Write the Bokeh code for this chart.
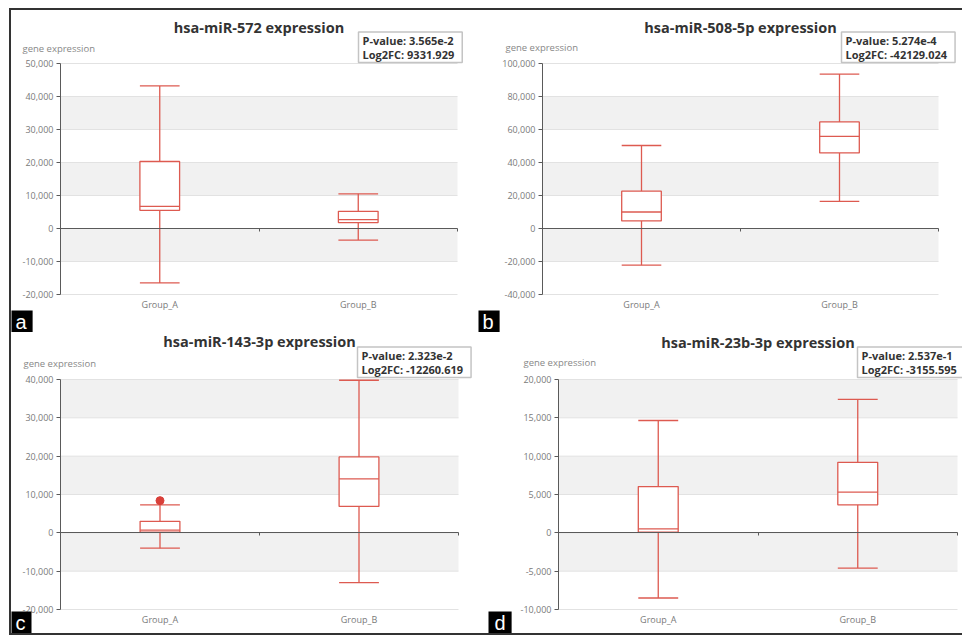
from bokeh.plotting import figure
from bokeh.models import Range1d, FixedTicker, NumeralTickFormatter, Label, BoxAnnotation, LinearAxis, Div
from bokeh.layouts import column, row
from bokeh.embed import file_html
from bokeh.resources import INLINE

groups = ["Group_A", "Group_B"]

a_title = "hsa-miR-572 expression"
a_pvalue = "P-value: 3.565e-2"
a_log2fc = "Log2FC: 9331.929"
a_yticks = [-20000, -10000, 0, 10000, 20000, 30000, 40000, 50000]
a_lower = [-16500, -3500]
a_q1 = [5500, 1800]
a_median = [6700, 2700]
a_q3 = [20300, 5200]
a_upper = [43200, 10500]
a_out_group = []
a_out_value = []

b_title = "hsa-miR-508-5p expression"
b_pvalue = "P-value: 5.274e-4"
b_log2fc = "Log2FC: -42129.024"
b_yticks = [-40000, -20000, 0, 20000, 40000, 60000, 80000, 100000]
b_lower = [-22200, 16400]
b_q1 = [4600, 45800]
b_median = [10000, 55800]
b_q3 = [22600, 64600]
b_upper = [50300, 93600]
b_out_group = []
b_out_value = []

c_title = "hsa-miR-143-3p expression"
c_pvalue = "P-value: 2.323e-2"
c_log2fc = "Log2FC: -12260.619"
c_yticks = [-20000, -10000, 0, 10000, 20000, 30000, 40000]
c_lower = [-4000, -13000]
c_q1 = [200, 6900]
c_median = [700, 14100]
c_q3 = [3000, 19800]
c_upper = [7300, 39800]
c_out_group = ["Group_A"]
c_out_value = [8400]

d_title = "hsa-miR-23b-3p expression"
d_pvalue = "P-value: 2.537e-1"
d_log2fc = "Log2FC: -3155.595"
d_yticks = [-10000, -5000, 0, 5000, 10000, 15000, 20000]
d_lower = [-8500, -4600]
d_q1 = [100, 3650]
d_median = [520, 5300]
d_q3 = [6040, 9200]
d_upper = [14650, 17400]
d_out_group = []
d_out_value = []

RED = "#dd5a50"
FONT = "Open Sans"
AXIS = "#5a5a5a"
PV_PAD = (4, 8, 1, 1)


def panel(title, pv, fc, yticks, lower, q1, med, q3, upper, out_g, out_v, letter,
          w, h, l, r, t, b, pv_left, pv_bottom, name_dx, name_dy, title_dy, letter_dx):
    n = len(groups)
    xs = [i + 0.5 for i in range(n)]
    hw = 0.1
    ymin, ymax = yticks[0], yticks[-1]
    pw, ph = w - l - r, h - t - b
    sx = n / pw
    sy = (ymax - ymin) / ph
    p = figure(width=w, height=h, x_range=Range1d(-l * sx, n + r * sx),
               y_range=Range1d(ymin - b * sy, ymax + t * sy),
               output_backend="svg", toolbar_location=None,
               x_axis_location=None, y_axis_location=None, min_border=0)
    p.outline_line_color = None
    p.background_fill_color = "white"
    p.border_fill_color = "white"
    p.xgrid.visible = False
    p.ygrid.visible = False

    for i in range(len(yticks) - 1):
        if i % 2 == 1:
            p.add_layout(BoxAnnotation(left=0, right=n, bottom=yticks[i], top=yticks[i + 1],
                                       fill_color="#f1f1f1", fill_alpha=1, line_color=None,
                                       level="underlay"))
    p.segment(x0=[0] * len(yticks), x1=[n] * len(yticks), y0=yticks, y1=yticks,
              line_color="#e2e2e2", line_width=1)

    yax = LinearAxis(fixed_location=0, bounds=(ymin, ymax), ticker=FixedTicker(ticks=yticks),
                     formatter=NumeralTickFormatter(format="0,0"))
    yax.axis_line_color = AXIS
    yax.major_tick_line_color = AXIS
    yax.major_tick_out = 4
    yax.major_tick_in = 0
    yax.minor_tick_line_color = None
    yax.major_label_standoff = 3
    yax.major_label_text_font = FONT
    yax.major_label_text_font_size = "9px"
    yax.major_label_text_color = "#7a7a7a"
    p.add_layout(yax, "left")

    zax = LinearAxis(fixed_location=0, bounds=(0, n), ticker=FixedTicker(ticks=list(range(n + 1))))
    zax.axis_line_color = AXIS
    zax.major_tick_line_color = AXIS
    zax.major_tick_out = 3
    zax.major_tick_in = 0
    zax.minor_tick_line_color = None
    zax.major_label_text_color = None
    p.add_layout(zax, "below")

    gax = LinearAxis(fixed_location=ymin, ticker=FixedTicker(ticks=xs),
                     major_label_overrides={x: g for x, g in zip(xs, groups)})
    gax.axis_line_color = None
    gax.major_tick_line_color = None
    gax.major_tick_out = 0
    gax.major_tick_in = 0
    gax.minor_tick_line_color = None
    gax.major_label_standoff = 3
    gax.major_label_text_font = FONT
    gax.major_label_text_font_size = "9px"
    gax.major_label_text_color = "#7a7a7a"
    p.add_layout(gax, "below")

    p.segment(x0=xs, y0=q3, x1=xs, y1=upper, line_color=RED, line_width=1.3)
    p.segment(x0=xs, y0=q1, x1=xs, y1=lower, line_color=RED, line_width=1.3)
    p.segment(x0=[x - hw for x in xs], y0=upper, x1=[x + hw for x in xs], y1=upper,
              line_color=RED, line_width=1.3)
    p.segment(x0=[x - hw for x in xs], y0=lower, x1=[x + hw for x in xs], y1=lower,
              line_color=RED, line_width=1.3)
    p.vbar(x=xs, width=2 * hw, bottom=q1, top=q3, fill_color="white", line_color=RED, line_width=1.3)
    p.segment(x0=[x - hw for x in xs], y0=med, x1=[x + hw for x in xs], y1=med,
              line_color=RED, line_width=1.3)
    if out_g:
        ox = [groups.index(g) + 0.5 for g in out_g]
        p.scatter(x=ox, y=out_v, size=8, fill_color="#d9403a", line_color="#d9403a")

    p.add_layout(Label(x=n / 2, y=ymax, y_offset=title_dy, text=title, text_align="center",
                       text_baseline="middle", text_font=FONT, text_font_size="14.5px",
                       text_font_style="bold", text_color="#333333"))
    p.add_layout(Label(x=0, y=ymax, x_offset=name_dx, y_offset=name_dy, text="gene expression",
                       text_align="left", text_baseline="middle", text_font=FONT,
                       text_font_size="9.5px", text_color="#888888"))
    p.add_layout(Label(x=n, y=ymax, x_offset=pv_left, y_offset=pv_bottom + PV_PAD[3],
                       text=pv + "\n" + fc,
                       text_align="left", text_baseline="bottom", text_font=FONT,
                       text_font_size="11px", text_font_style="bold", text_color="#333333",
                       text_line_height=0.9, background_fill_color="white",
                       border_line_color="#c4c4c4", border_line_width=1.5, padding=PV_PAD))
    p.add_layout(Label(x=0, y=ymin, x_offset=-l + letter_dx - 2, y_offset=-b, text=letter,
                       text_align="left", text_baseline="bottom", text_font="Liberation Sans",
                       text_font_size="20px", text_color="white", background_fill_color="black",
                       padding=(6, 0)))
    return p


pa = panel(a_title, a_pvalue, a_log2fc, a_yticks, a_lower, a_q1, a_median, a_q3, a_upper,
           a_out_group, a_out_value, "a", 467, 322, 49, 21, 53, 38, -99, 0, -38, 15, 36, 0)
pb = panel(b_title, b_pvalue, b_log2fc, b_yticks, b_lower, b_q1, b_median, b_q3, b_upper,
           b_out_group, b_out_value, "b", 484, 322, 64, 24, 53, 38, -97, 0, -37, 16, 36, 0)
pc = panel(c_title, c_pvalue, c_log2fc, c_yticks, c_lower, c_q1, c_median, c_q3, c_upper,
           c_out_group, c_out_value, "c", 467, 301, 49, 20, 47, 24, -101, 1, -37, 16, 38, 0)
pd = panel(d_title, d_pvalue, d_log2fc, d_yticks, d_lower, d_q1, d_median, d_q3, d_upper,
           d_out_group, d_out_value, "d", 484, 301, 80, 5, 47, 24, -100, 1, -35, 17, 37, 12)

LINE = {"background-color": "#333333"}
top_line = Div(text="", width=2 + 467 + 484, height=2, margin=0, styles=LINE)
left_line = Div(text="", width=2, height=322 + 301, margin=0, styles=LINE)
bottom_line = Div(text="", width=2 + 467 + 484, height=2, margin=0, styles=LINE)
right_pad = Div(text="", width=2, height=322 + 301, margin=0, styles={"background-color": "white"})

grid = column(row(pa, pb), row(pc, pd))
layout = column(top_line, row(left_line, grid, right_pad), bottom_line, margin=(8, 0, 0, 9))

open("out.html", "w").write(file_html(layout, INLINE))
